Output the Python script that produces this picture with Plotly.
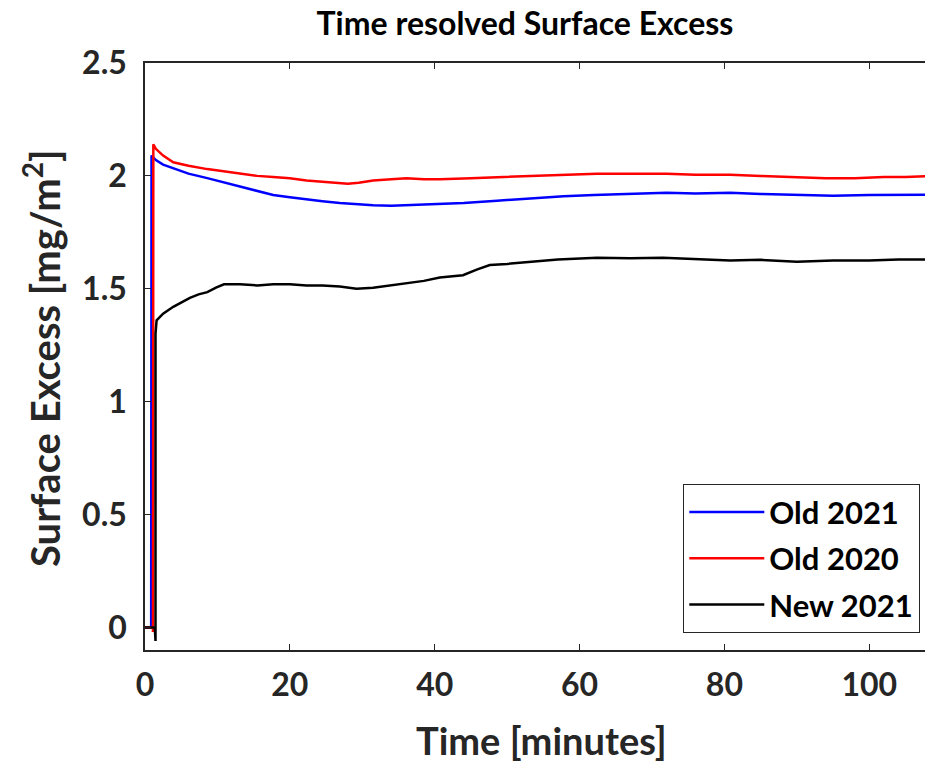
import plotly.graph_objects as go

# ---- data ----
t_old2021 = [0, 0.85, 0.9, 1.5, 2.5, 3.9, 6, 8.6, 11, 13.1, 15.5, 17.7, 20, 22.3, 24.5,
             26.9, 29, 31.5, 34, 36.1, 38.5, 40.7, 44, 48.6, 53, 57.8, 62, 67, 72, 76,
             80.8, 85, 90, 95, 100, 104, 108.8]
v_old2021 = [0, 0, 2.09, 2.07, 2.05, 2.035, 2.01, 1.99, 1.97, 1.95, 1.93, 1.915, 1.905,
             1.895, 1.888, 1.88, 1.875, 1.87, 1.868, 1.87, 1.872, 1.875, 1.88, 1.89, 1.90,
             1.91, 1.915, 1.92, 1.925, 1.922, 1.925, 1.92, 1.915, 1.912, 1.915, 1.915, 1.917]

t_old2020 = [0, 1.1, 1.1, 1.15, 1.5, 2.5, 3.9, 6, 8.6, 11, 13.1, 15.5, 17.7, 20, 22.3,
             24.5, 26.9, 28, 29.5, 31.5, 34, 36.1, 38.5, 40.7, 45, 49, 53.2, 58, 62.4, 67,
             72, 76, 80.8, 85, 90, 94, 98, 102, 105, 108.8]
v_old2020 = [0, 0, -0.02, 2.14, 2.12, 2.09, 2.06, 2.045, 2.03, 2.02, 2.01, 2.0, 1.995,
             1.99, 1.98, 1.975, 1.97, 1.965, 1.97, 1.98, 1.985, 1.99, 1.985, 1.985, 1.99,
             1.995, 2.0, 2.005, 2.01, 2.01, 2.01, 2.005, 2.005, 2.0, 1.995, 1.99, 1.99,
             1.995, 1.995, 2.0]

t_new2021 = [0, 1.35, 1.45, 1.45, 1.6, 2.5, 3.9, 5, 6.2, 7.4, 8.6, 9.8, 10.9, 13.1, 15.5,
             17.7, 20, 22.3, 24.5, 26.9, 29.2, 31.5, 34, 36.1, 38.5, 40.7, 43.9, 45.8,
             47.6, 50, 53.2, 57, 62.4, 67, 71.5, 76, 80.8, 85, 90, 95, 100, 104, 108.8]
v_new2021 = [0, 0, -0.06, 1.30, 1.36, 1.39, 1.42, 1.44, 1.46, 1.475, 1.485, 1.505, 1.52,
             1.52, 1.515, 1.52, 1.52, 1.515, 1.515, 1.51, 1.50, 1.505, 1.515, 1.525, 1.535,
             1.55, 1.56, 1.585, 1.605, 1.61, 1.62, 1.63, 1.637, 1.635, 1.637, 1.63, 1.625,
             1.628, 1.62, 1.625, 1.625, 1.63, 1.63]

series_names = ["Old 2021", "Old 2020", "New 2021"]
x_ticks = [0, 20, 40, 60, 80, 100]
y_ticks = [0, 0.5, 1, 1.5, 2, 2.5]
y_tick_labels = ["0", "0.5", "1", "1.5", "2", "2.5"]

FONT = "Lato"
AX = "#262626"

# page body adds an 8px offset, so the figure is 8px smaller than the window
W, H = 925, 755
ML, MT, MB = 137, 55, 113
PW, PH = W - ML, H - MT - MB

fig = go.Figure()
for t, v, name, col in [(t_old2021, v_old2021, series_names[0], "#0000ff"),
                        (t_old2020, v_old2020, series_names[1], "#ff0000"),
                        (t_new2021, v_new2021, series_names[2], "#000000")]:
    fig.add_trace(go.Scatter(x=t, y=v, mode="lines", name=name, legendgroup=name,
                             line=dict(color=col, width=2.5)))

fig.update_layout(
    width=W, height=H,
    margin=dict(l=ML, r=0, t=MT, b=MB),
    paper_bgcolor="white", plot_bgcolor="white",
    font=dict(family=FONT, color="#262626"),
    showlegend=True,
    legend=dict(x=(920 - 8 - ML) / PW, y=(650 - 633) / PH, xanchor="right", yanchor="bottom",
                bgcolor="white", bordercolor=AX, borderwidth=1.3,
                font=dict(family=FONT, size=31, color="black", weight="bold"),
                tracegroupgap=3, itemwidth=75),
    title=dict(text="<b>Time resolved Surface Excess</b>", xref="container", yref="container",
               x=(525 - 8) / W, y=1, xanchor="center", yanchor="top",
               pad=dict(t=5),
               font=dict(family=FONT, size=32, color="black")),
    xaxis=dict(range=[0, 108.8], tickvals=x_ticks, ticks="inside", ticklen=6,
               tickwidth=1.3, tickcolor=AX, showline=True, linecolor=AX, linewidth=1.5,
               mirror="allticks", showgrid=False, zeroline=False,
               tickfont=dict(family=FONT, size=32, color="#262626", weight="bold"),
               ticklabelstandoff=6),
    yaxis=dict(range=[-0.1, 2.5], tickvals=y_ticks, ticktext=y_tick_labels,
               ticks="inside", ticklen=6, tickwidth=1.3, tickcolor=AX, showline=True,
               linecolor=AX, linewidth=1.5, mirror=False, showgrid=False, zeroline=False,
               tickfont=dict(family=FONT, size=32, color="#262626", weight="bold"),
               ticklabelstandoff=10),
)

fig.add_annotation(text="<b>Time [minutes]</b>", xref="paper", yref="paper",
                   x=(541 - 8 - ML) / PW, y=-(740 - 650) / PH, xanchor="center",
                   yanchor="middle", showarrow=False,
                   font=dict(family=FONT, size=38, color="#262626"))
fig.add_annotation(text="<b>Surface Excess [mg/m<sup>2</sup>]</b>", xref="paper", yref="paper",
                   x=(42 - 8 - ML) / PW, y=(650 - 358) / PH, xanchor="center",
                   yanchor="middle", textangle=-90, showarrow=False,
                   font=dict(family=FONT, size=40, color="#262626"))

fig.write_html("out.html")
